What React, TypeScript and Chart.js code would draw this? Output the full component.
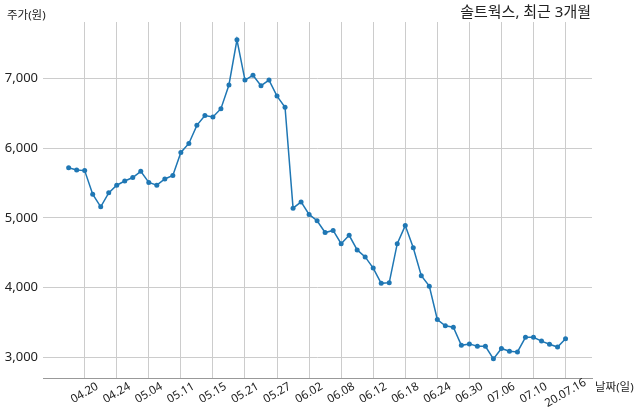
import React, { useEffect, useRef } from "react";
import { Chart, registerables } from "chart.js";

Chart.register(...registerables);

const dates = [
  "04.16", "04.17", "04.20", "04.21", "04.22", "04.23", "04.24", "04.27", "04.28", "04.29",
  "05.04", "05.06", "05.07", "05.08", "05.11", "05.12", "05.13", "05.14", "05.15", "05.18",
  "05.19", "05.20", "05.21", "05.22", "05.25", "05.26", "05.27", "05.28", "05.29", "06.01",
  "06.02", "06.03", "06.04", "06.05", "06.08", "06.09", "06.10", "06.11", "06.12", "06.15",
  "06.16", "06.17", "06.18", "06.19", "06.22", "06.23", "06.24", "06.25", "06.26", "06.29",
  "06.30", "07.01", "07.02", "07.03", "07.06", "07.07", "07.08", "07.09", "07.10", "07.13",
  "07.14", "07.15", "20.07.16",
];

const prices = [
  5720, 5690, 5680, 5340, 5160, 5360, 5470, 5530, 5580, 5670,
  5510, 5470, 5560, 5610, 5940, 6070, 6330, 6470, 6450, 6570,
  6910, 7560, 6980, 7050, 6900, 6980, 6750, 6590, 5140, 5230,
  5050, 4960, 4790, 4820, 4630, 4750, 4540, 4440, 4280, 4060,
  4070, 4630, 4890, 4570, 4170, 4020, 3540, 3450, 3430, 3170,
  3190, 3155, 3155, 2975, 3125, 3085, 3075, 3285, 3285, 3230,
  3185, 3145, 3265,
];

const tickIndices = [2, 6, 10, 14, 18, 22, 26, 30, 34, 38, 42, 46, 50, 54, 58, 62];
const yTicks = [3000, 4000, 5000, 6000, 7000];

const titleText = "솔트웍스, 최근 3개월";
const yAxisTitle = "주가(원)";
const xAxisTitle = "날짜(일)";

const FONT = '"Noto Sans", "Noto Sans CJK KR", sans-serif';

export default function App() {
  const ref = useRef<HTMLCanvasElement | null>(null);

  useEffect(() => {
    if (!ref.current) return;
    const textPlugin = {
      id: "texts",
      afterDraw(chart: any) {
        const ctx = chart.ctx;
        ctx.save();
        ctx.fillStyle = "#222";
        ctx.textBaseline = "middle";
        ctx.font = `11.5px ${FONT}`;
        ctx.textAlign = "left";
        ctx.fillText(yAxisTitle, 7, 16);
        ctx.fillText(xAxisTitle, 595, 388);
        ctx.font = `15px ${FONT}`;
        ctx.textAlign = "right";
        ctx.fillText(titleText, 591, 13);
        ctx.restore();
      },
    };

    // center rotated x tick labels on their ticks (matplotlib style)
    const centerLabels = {
      id: "centerLabels",
      beforeDraw(chart: any) {
        const scale = chart.scales.x;
        const items = scale.getLabelItems(chart.chartArea);
        items.forEach((it: any, i: number) => {
          const px = scale.getPixelForTick(i);
          it.options.textAlign = "center";
          it.options.textBaseline = "middle";
          it.options.translation = [px, scale.top + 15];
          it.textOffset = 0;
        });
      },
    };

    const chart = new Chart(ref.current, {
      type: "line",
      data: {
        datasets: [
          {
            data: prices.map((p, i) => ({ x: i, y: p })),
            borderColor: "#1f77b4",
            backgroundColor: "#1f77b4",
            borderWidth: 1.5,
            pointRadius: 2.5,
            pointBorderWidth: 0,
            tension: 0,
          },
        ],
      },
      options: {
        responsive: false,
        animation: false,
        layout: { padding: { left: 0, top: 22, right: 48, bottom: 0 } },
        plugins: {
          legend: { display: false },
          tooltip: { enabled: false },
          title: { display: false },
        },
        scales: {
          x: {
            type: "linear",
            min: -3.2,
            max: 65.3,
            afterBuildTicks: (scale: any) => {
              scale.ticks = tickIndices.map((v) => ({ value: v }));
            },
            afterFit: (scale: any) => {
              scale.height = 41;
            },
            ticks: {
              autoSkip: false,
              minRotation: 30,
              maxRotation: 30,
              padding: 2,
              color: "#222",
              font: { family: FONT, size: 11.5 },
              callback: (v: any) => dates[Number(v)] ?? "",
            },
            grid: { color: "#cccccc", lineWidth: 1, drawTicks: false },
            border: { display: true, color: "#999999", width: 1 },
          },
          y: {
            type: "linear",
            min: 2700,
            max: 7815,
            afterBuildTicks: (scale: any) => {
              scale.ticks = yTicks.map((v) => ({ value: v }));
            },
            afterFit: (scale: any) => {
              scale.width = 43;
            },
            ticks: {
              padding: 5,
              color: "#222",
              font: { family: FONT, size: 13 },
              callback: (v: any) => Number(v).toLocaleString("en-US"),
            },
            grid: { color: "#cccccc", lineWidth: 1, drawTicks: false },
            border: { display: false },
          },
        },
      },
      plugins: [centerLabels, textPlugin],
    });
    return () => chart.destroy();
  }, []);

  return (
    <div style={{ position: "absolute", left: 0, top: 0, width: 640, height: 419, background: "#fff" }}>
      <canvas ref={ref} width={640} height={419} style={{ display: "block", width: 640, height: 419 }} />
    </div>
  );
}
